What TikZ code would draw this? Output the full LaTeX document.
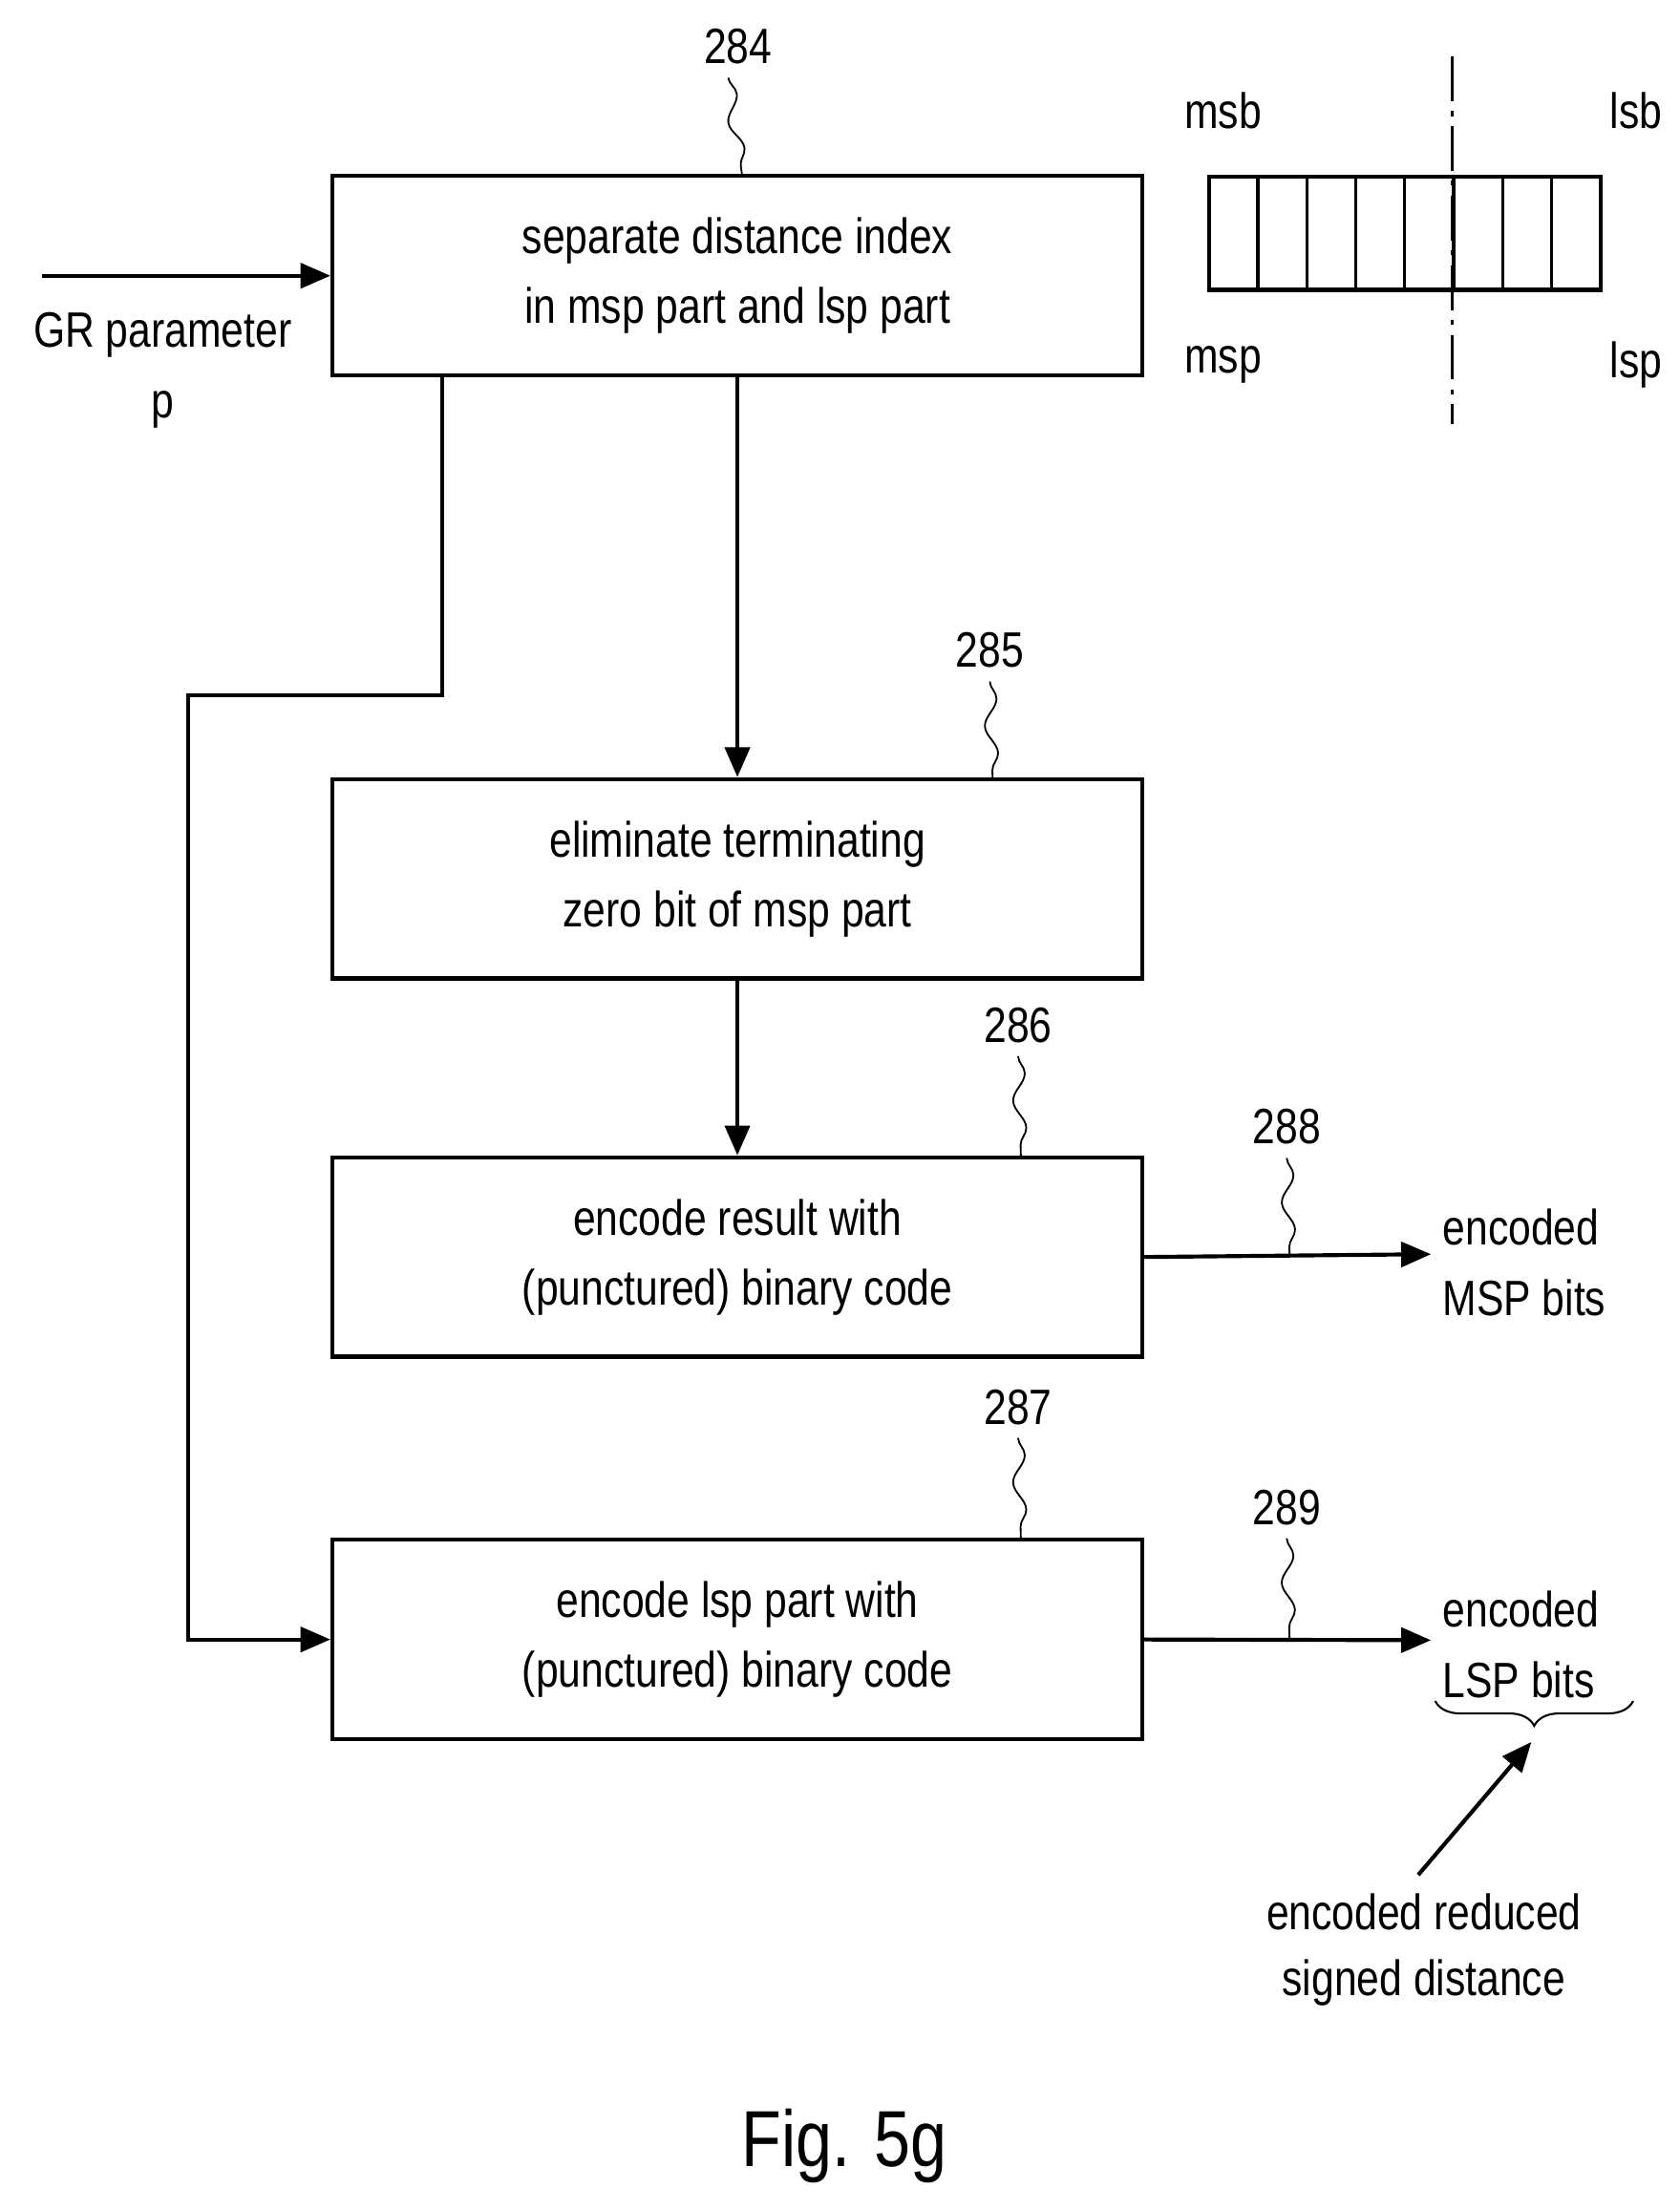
\documentclass[tikz,border=0pt]{standalone}
\usepackage{fontspec}
\setmainfont[FakeStretch=0.82]{Liberation Sans}
\usetikzlibrary{arrows.meta,decorations.pathmorphing,decorations.pathreplacing}
\begin{document}
\begin{tikzpicture}[x=0.02cm,y=-0.02cm,
  box/.style={draw,line width=1.6pt,minimum width=11.46cm,minimum height=2.82cm,align=center,font=\fontsize{20}{25}\selectfont,inner sep=0},
  lbl/.style={font=\fontsize{20}{25}\selectfont,align=center,inner sep=0},
  ln/.style={line width=1.6pt},
  arr/.style={ln,-{Triangle[length=12pt,width=10pt]}},
  sq/.style={line width=0.7pt,decorate,decoration={snake,amplitude=2.5pt,segment length=22pt}}]
\useasboundingbox (0,0) rectangle (1188,1563);
\node[box] (b1) at (521.5,195) {separate distance index\\[3pt]in msp part and lsp part};
\node[box] (b2) at (521.5,621.5) {eliminate terminating\\[3pt]zero bit of msp part};
\node[box] (b3) at (521.5,889) {encode result with\\[3pt](punctured) binary code};
\node[box] (b4) at (521.5,1159.5) {encode lsp part with\\[3pt](punctured) binary code};
\coordinate (in) at (30,195);
\draw[arr] (in) -- (b1.west);
\node[lbl] (gr) at (115,237) {GR parameter};
\node[lbl] (p) at (115,290) {p};
\draw[arr] (b1.south) -- (b2.north);
\draw[arr] (b2.south) -- (b3.north);
\coordinate (c1) at (313,265);
\draw[arr] (c1) |- (223,492) -- (133,492) |- (b4.west);
\node[lbl,anchor=west] (e1) at (1020,868) {encoded};
\node[lbl,anchor=west] (m1) at (1020,918) {MSP bits};
\node[lbl,anchor=west] (e2) at (1020,1138) {encoded};
\node[lbl,anchor=west] (m2) at (1020,1188) {LSP bits};
\draw[arr] (b3.east) -- (1012,887);
\draw[arr] (b4.east) -- (1012,1160);
\draw[line width=0.8pt,decorate,decoration={brace,mirror,amplitude=10pt}] (1015,1203) -- (1155,1203);
\coordinate (bt) at (1083,1232);
\node[lbl] (r1) at (1007,1352) {encoded reduced};
\node[lbl] (r2) at (1007,1402) {signed distance};
\draw[arr] (1003,1326) -- (bt);
% refs
\node[lbl] (n284) at (522,33) {284};
\draw[sq] (515,55) -- (525,125);
\node[lbl] (n285) at (700,460) {285};
\draw[sq] (700,482) -- (702,551);
\node[lbl] (n286) at (720,725) {286};
\draw[sq] (720,747) -- (722,818);
\node[lbl] (n287) at (720,995) {287};
\draw[sq] (720,1017) -- (722,1089);
\node[lbl] (n288) at (910,797) {288};
\draw[sq] (910,819) -- (912,887);
\node[lbl] (n289) at (910,1066) {289};
\draw[sq] (910,1088) -- (912,1160);
% register
\draw[line width=1.6pt] (855,125) rectangle (1132,205);
\foreach \i in {1,...,7} \draw[line width=1.2pt] ({855+\i*34.6},125) -- ({855+\i*34.6},205);
\draw[line width=1pt,dash pattern=on 18pt off 4pt on 2pt off 4pt] (1027,40) -- (1027,300);
\node[lbl] (msb) at (865,78) {msb};
\node[lbl] (lsb) at (1157,78) {lsb};
\node[lbl] (msp) at (865,258) {msp};
\node[lbl] (lsp) at (1157,258) {lsp};
\node[lbl,font=\fontsize{32}{38}\selectfont] (fig) at (597,1518) {Fig. 5g};
\end{tikzpicture}
\end{document}
